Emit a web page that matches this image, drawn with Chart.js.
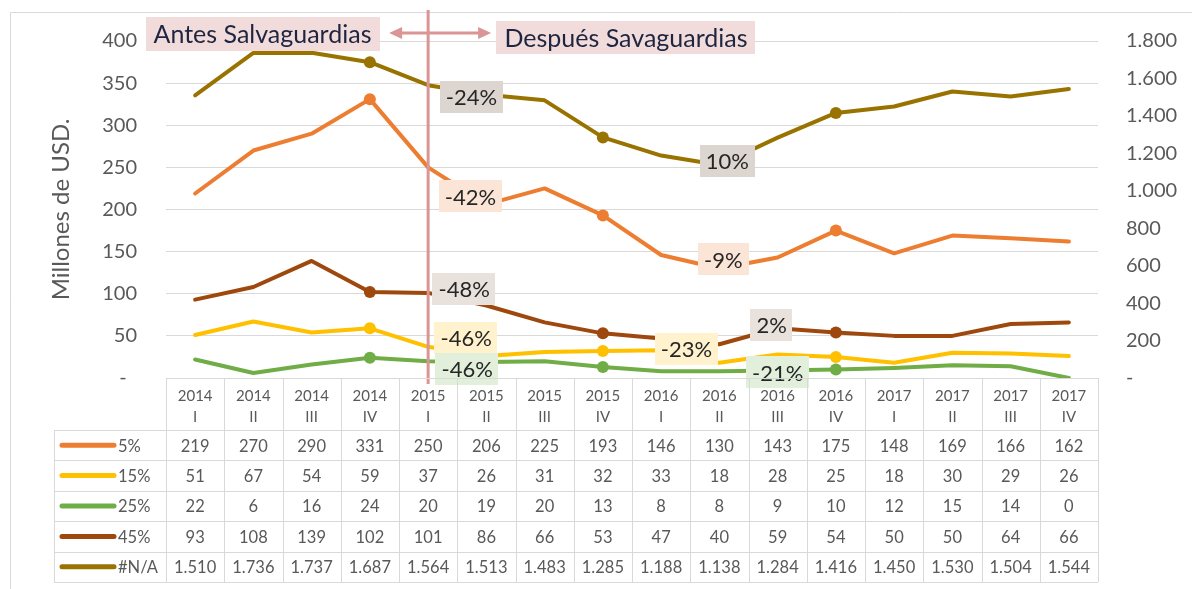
<!DOCTYPE html>
<html>
<head>
<meta charset="utf-8">
<script src="https://cdn.jsdelivr.net/npm/chart.js@4.4.1/dist/chart.umd.min.js"></script>
<style>
  html, body { margin: 0; padding: 0; background: #fff; }
  #wrap { width: 1192px; height: 589px; }
</style>
</head>
<body>
<div id="wrap"><canvas id="c" width="1192" height="589"></canvas></div>
<script>
const years    = ['2014','2014','2014','2014','2015','2015','2015','2015','2016','2016','2016','2016','2017','2017','2017','2017'];
const quarters = ['I','II','III','IV','I','II','III','IV','I','II','III','IV','I','II','III','IV'];
const seriesNames = ['5%', '15%', '25%', '45%', '#N/A'];
const s5   = [219, 270, 290, 331, 250, 206, 225, 193, 146, 130, 143, 175, 148, 169, 166, 162];
const s15  = [51, 67, 54, 59, 37, 26, 31, 32, 33, 18, 28, 25, 18, 30, 29, 26];
const s25  = [22, 6, 16, 24, 20, 19, 20, 13, 8, 8, 9, 10, 12, 15, 14, 0];
const s45  = [93, 108, 139, 102, 101, 86, 66, 53, 47, 40, 59, 54, 50, 50, 64, 66];
const sNA  = [1510, 1736, 1737, 1687, 1564, 1513, 1483, 1285, 1188, 1138, 1284, 1416, 1450, 1530, 1504, 1544];
const leftMax = 400, leftStep = 50;
const rightMax = 1800, rightStep = 200;

// change call-outs: text, which series, which quarter they hang off
const changeText   = ['-24%', '10%', '-42%', '-9%', '-48%', '-46%', '-46%', '-23%', '2%', '-21%'];
const changeSeries = [4, 4, 0, 0, 3, 1, 2, 1, 3, 2];
const changeIndex  = [5, 9, 5, 9, 4, 4, 4, 9, 10, 10];
// pixel nudges so the boxes sit where the original put them (layout only)
const changeNudge  = [[-15, 2], [8, -4], [-16, -8], [4, -9], [36, -4], [38, -9], [39, 8], [-33, -14], [-6, -3], [0, 2]];

const dividerIndex = 4;   // 2015 I — safeguards start
const beforeText = 'Antes Salvaguardias';
const afterText  = 'Después Savaguardias';

// ── styling ─────────────────────────────────────────────────────────
const FONT = 'Lato, "Open Sans", sans-serif';
const GREY = '#595959';
const GRID = '#d9d9d9';
const COLORS = ['#ed7d31', '#ffc000', '#70ad47', '#9e480e', '#997300'];
const BOX_BG = ['#fbe5d6', '#fff2cc', '#e2efda', '#e9e1db', '#ddd5cf'];
const PINK = '#d99694';

const allSeries = [s5, s15, s25, s45, sNA];
const markerIdx = [3, 7, 11];

function dotted(n) {
  return String(n).replace(/\B(?=(\d{3})+(?!\d))/g, '.');
}

function radii(r) {
  return years.map((_, i) => (markerIdx.includes(i) ? r : 0));
}

const datasets = allSeries.map((d, i) => ({
  label: seriesNames[i],
  data: d,
  yAxisID: i === 4 ? 'y1' : 'y',
  borderColor: COLORS[i],
  backgroundColor: COLORS[i],
  borderWidth: 4,
  tension: 0,
  borderJoinStyle: 'round',
  borderCapStyle: 'round',
  pointRadius: radii(6),
  pointHoverRadius: 0,
  pointBorderWidth: 0,
  order: 5 - i,
}));

// ── plugins: frame, right-axis labels, divider + call-outs, data table ─
const framePlugin = {
  id: 'frame',
  beforeDraw(chart) {
    const ctx = chart.ctx;
    ctx.save();
    ctx.fillStyle = '#fff';
    ctx.fillRect(0, 0, chart.width, chart.height);
    ctx.strokeStyle = GRID;
    ctx.lineWidth = 1;
    ctx.beginPath();
    ctx.moveTo(10.5, chart.height);
    ctx.lineTo(10.5, 12.5);
    ctx.lineTo(chart.width, 12.5);
    ctx.stroke();
    ctx.restore();
  },
};

// secondary axis labels: left-aligned like Excel, placed from the y1 scale
const rightLabels = {
  id: 'rightLabels',
  afterDraw(chart) {
    const ctx = chart.ctx;
    const sc = chart.scales.y1;
    ctx.save();
    ctx.font = '20px ' + FONT;
    ctx.fillStyle = GREY;
    ctx.textAlign = 'left';
    ctx.textBaseline = 'middle';
    sc.ticks.forEach((t) => {
      const y = sc.getPixelForValue(t.value);
      ctx.fillText(t.value === 0 ? '-' : dotted(t.value), chart.chartArea.right + 28, y);
    });
    ctx.restore();
  },
};

function textBox(ctx, text, cx, cy, font, bg, fg, padX, h) {
  ctx.font = font;
  const w = ctx.measureText(text).width + padX * 2;
  ctx.fillStyle = bg;
  ctx.fillRect(Math.round(cx - w / 2), Math.round(cy - h / 2), Math.round(w), h);
  ctx.fillStyle = fg;
  ctx.textAlign = 'center';
  ctx.textBaseline = 'middle';
  ctx.fillText(text, cx, cy + 1);
}

const dividerPlugin = {
  id: 'divider',
  afterDatasetsDraw(chart) {
    const ctx = chart.ctx;
    const x = chart.scales.x.getPixelForValue(dividerIndex);
    ctx.save();
    ctx.strokeStyle = PINK;
    ctx.lineWidth = 3;
    ctx.beginPath();
    ctx.moveTo(x, 10);
    ctx.lineTo(x, 384);
    ctx.stroke();

    // double-headed arrow across the divider
    const ay = 33, ax0 = x - 39, ax1 = x + 63;
    ctx.lineWidth = 3;
    ctx.beginPath();
    ctx.moveTo(ax0 + 8, ay);
    ctx.lineTo(ax1 - 8, ay);
    ctx.stroke();
    ctx.fillStyle = PINK;
    ctx.beginPath();
    ctx.moveTo(ax0, ay); ctx.lineTo(ax0 + 13, ay - 6); ctx.lineTo(ax0 + 13, ay + 6); ctx.closePath();
    ctx.fill();
    ctx.beginPath();
    ctx.moveTo(ax1, ay); ctx.lineTo(ax1 - 13, ay - 6); ctx.lineTo(ax1 - 13, ay + 6); ctx.closePath();
    ctx.fill();

    // change call-outs
    changeText.forEach((t, k) => {
      const s = changeSeries[k];
      const sc = chart.scales[s === 4 ? 'y1' : 'y'];
      const px = chart.scales.x.getPixelForValue(changeIndex[k]) + changeNudge[k][0];
      const py = sc.getPixelForValue(allSeries[s][changeIndex[k]]) + changeNudge[k][1];
      textBox(ctx, t, px, py, '22px ' + FONT, BOX_BG[s], '#262626', 6, 32);
    });

    // before / after headings
    textBox(ctx, beforeText, 262.5, 34, '25px ' + FONT, '#f2dcdb', '#1d2540', 8, 34);
    textBox(ctx, afterText, 626, 37.5, '25px ' + FONT, '#f2dcdb', '#1d2540', 8, 33);
    ctx.restore();
  },
};

const tablePlugin = {
  id: 'dataTable',
  afterDraw(chart) {
    const ctx = chart.ctx;
    const xs = chart.scales.x;
    const { left, right, bottom } = chart.chartArea;
    const colW = xs.getPixelForValue(1) - xs.getPixelForValue(0);
    const headBottom = xs.bottom;
    const rowH = 30.4;
    const tabBottom = headBottom + rowH * allSeries.length;
    const keyLeft = 54;
    ctx.save();
    ctx.strokeStyle = GRID;
    ctx.lineWidth = 1;
    ctx.beginPath();
    // header top line (doubles as the zero axis)
    ctx.moveTo(left, Math.round(bottom) + 0.5);
    ctx.lineTo(right, Math.round(bottom) + 0.5);
    for (let r = 0; r <= allSeries.length; r++) {
      const y = Math.round(headBottom + r * rowH) + 0.5;
      ctx.moveTo(keyLeft, y);
      ctx.lineTo(right, y);
    }
    for (let c = 0; c <= years.length; c++) {
      const x = Math.round(left + c * colW) + 0.5;
      ctx.moveTo(x, Math.round(bottom));
      ctx.lineTo(x, tabBottom);
    }
    ctx.moveTo(keyLeft + 0.5, Math.round(headBottom));
    ctx.lineTo(keyLeft + 0.5, tabBottom);
    ctx.stroke();

    ctx.font = '16.5px ' + FONT;
    ctx.textBaseline = 'middle';
    allSeries.forEach((d, r) => {
      const cy = headBottom + r * rowH + rowH / 2 + 1;
      // legend key
      ctx.strokeStyle = COLORS[r];
      ctx.lineWidth = 5;
      ctx.lineCap = 'round';
      ctx.beginPath();
      ctx.moveTo(62, cy - 1);
      ctx.lineTo(114, cy - 1);
      ctx.stroke();
      ctx.fillStyle = GREY;
      ctx.textAlign = 'left';
      ctx.fillText(seriesNames[r], 118, cy);
      ctx.textAlign = 'center';
      d.forEach((v, i) => {
        ctx.fillText(dotted(v), xs.getPixelForValue(i), cy);
      });
    });
    ctx.restore();
  },
};

function draw() {
  new Chart(document.getElementById('c'), {
    type: 'line',
    data: { labels: years.map((y, i) => [y, quarters[i]]), datasets },
    options: {
      responsive: false,
      animation: false,
      events: [],
      layout: { padding: { left: 10, right: 10, top: 40, bottom: 159 } },
      plugins: {
        legend: { display: false },
        tooltip: { enabled: false },
      },
      scales: {
        x: {
          type: 'category',
          offset: true,
          grid: { display: false, drawTicks: false },
          border: { display: false },
          ticks: {
            color: GREY,
            font: { family: FONT, size: 15, lineHeight: 1.4 },
            padding: 8,
            maxRotation: 0,
            autoSkip: false,
          },
          afterFit(s) { s.height = 52; },
        },
        y: {
          position: 'left',
          min: 0,
          max: leftMax,
          grid: { color: GRID, lineWidth: 1, drawTicks: false },
          border: { display: false },
          ticks: {
            stepSize: leftStep,
            color: GREY,
            padding: 29,
            font: { family: FONT, size: 20 },
            callback: (v) => (v === 0 ? '-  ' : v),
          },
          title: {
            display: true,
            text: 'Millones de USD.',
            color: GREY,
            font: { family: FONT, size: 24 },
            padding: { top: 37, bottom: 0 },
          },
          afterFit(s) { s.width = 156; },
        },
        y1: {
          position: 'right',
          min: 0,
          max: rightMax,
          grid: { display: false, drawTicks: false },
          border: { display: false },
          ticks: { stepSize: rightStep, display: false },
          afterFit(s) { s.width = 84; },
        },
      },
    },
    plugins: [framePlugin, rightLabels, dividerPlugin, tablePlugin],
  });
}

if (document.fonts && document.fonts.load) {
  Promise.all([document.fonts.load('16px Lato'), document.fonts.load('bold 16px Lato')]).then(draw, draw);
} else {
  draw();
}
</script>
</body>
</html>
